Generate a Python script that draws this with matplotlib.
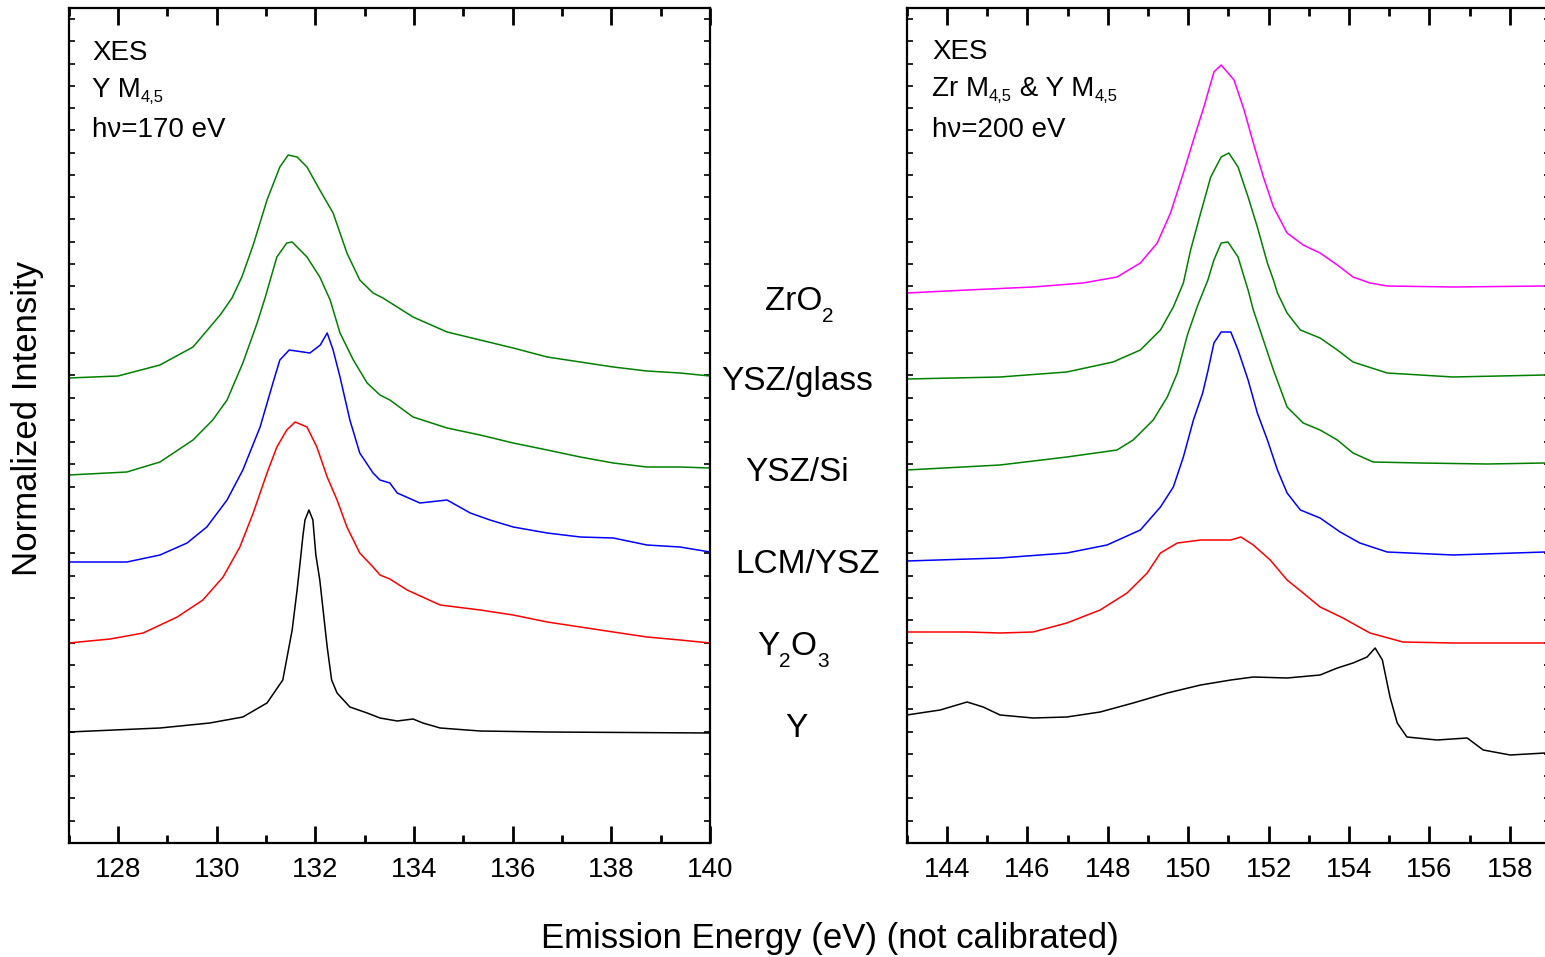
import numpy as np
import matplotlib
matplotlib.use('Agg')
import matplotlib.pyplot as plt
from matplotlib.ticker import MultipleLocator
from matplotlib.text import Annotation
from matplotlib.transforms import IdentityTransform

# ---------------- data (arbitrary intensity units, offsets included) -------------
# Left panel: Y M4,5, hv = 170 eV
yglass_L_E = [127.0, 128.0, 128.85, 129.52, 130.07, 130.31, 130.51, 130.74, 131.02, 131.28, 131.45,
              131.63, 131.83, 132.09, 132.36, 132.64, 132.90, 133.17, 133.37, 133.98, 134.67, 135.34,
              136.01, 136.70, 137.37, 138.04, 138.72, 139.39, 140.0]
yglass_L_I = [465, 467, 478, 496, 528, 545, 566, 598, 643, 676, 688,
              686, 676, 653, 630, 590, 563, 550, 545, 526, 511, 503,
              495, 486, 481, 476, 472, 470, 467]

ysi_L_E = [127.0, 128.18, 128.85, 129.52, 129.92, 130.21, 130.53, 130.82, 130.98, 131.22, 131.42,
           131.53, 131.83, 132.09, 132.30, 132.50, 132.77, 133.05, 133.31, 133.51, 133.98, 134.67,
           135.34, 136.01, 136.70, 137.37, 138.04, 138.72, 139.39, 140.0]
ysi_L_I = [368, 371, 381, 403, 423, 443, 480, 520, 545, 586, 600,
           601, 586, 566, 543, 510, 483, 460, 448, 443, 426, 415,
           408, 400, 393, 386, 380, 376, 376, 375]

lcm_L_E = [127.0, 128.18, 128.85, 129.40, 129.80, 130.21, 130.53, 130.88, 131.14, 131.28, 131.47,
           131.89, 132.10, 132.24, 132.36, 132.50, 132.70, 132.90, 133.17, 133.31, 133.51, 133.66,
           134.12, 134.67, 135.14, 135.54, 136.01, 136.70, 137.37, 138.04, 138.72, 139.39, 140.0]
lcm_L_I = [281, 281, 288, 300, 316, 343, 373, 416, 460, 483, 493,
           490, 498, 510, 493, 466, 423, 390, 370, 363, 360, 350,
           340, 343, 330, 323, 316, 310, 306, 305, 298, 296, 291]

y2o3_L_E = [127.0, 127.84, 128.51, 129.20, 129.72, 130.13, 130.47, 130.74, 131.02, 131.22, 131.42,
            131.59, 131.83, 132.03, 132.24, 132.44, 132.64, 132.90, 133.17, 133.31, 133.51, 133.86,
            134.53, 135.34, 136.01, 136.70, 137.37, 138.04, 138.72, 139.39, 140.0]
y2o3_L_I = [200, 204, 210, 226, 243, 266, 296, 330, 370, 396, 413,
            421, 416, 396, 366, 343, 316, 290, 276, 268, 264, 253,
            238, 233, 228, 221, 216, 211, 206, 203, 200]

y_L_E = [127.0, 128.85, 129.86, 130.53, 131.02, 131.34, 131.53, 131.63, 131.69, 131.75, 131.79,
         131.87, 131.95, 132.01, 132.09, 132.24, 132.33, 132.44, 132.70, 133.05, 133.31, 133.66,
         133.98, 134.18, 134.53, 135.34, 136.70, 140.0]
y_L_I = [111, 115, 120, 126, 140, 163, 213, 253, 280, 308, 323,
         333, 323, 288, 263, 196, 163, 150, 136, 130, 125, 122,
         124, 120, 115, 112, 111, 110]

# Right panel: Zr M4,5 & Y M4,5, hv = 200 eV
zro2_R_E = [143.0, 144.50, 146.14, 147.38, 148.23, 148.81, 149.23, 149.56, 149.88, 150.13, 150.39,
            150.64, 150.82, 151.14, 151.39, 151.62, 151.87, 152.12, 152.46, 152.86, 153.28, 153.71,
            154.10, 154.52, 154.95, 156.59, 158.88]
zro2_R_I = [550, 553, 556, 560, 566, 580, 600, 630, 670, 703, 736,
            771, 778, 763, 733, 700, 666, 636, 610, 598, 590, 578,
            566, 560, 557, 556, 557]

yglass_R_E = [143.0, 145.32, 146.98, 148.13, 148.81, 149.31, 149.63, 149.88, 150.06, 150.31,
              150.56, 150.82, 151.01, 151.24, 151.49, 151.72, 151.97, 152.12, 152.22, 152.46, 152.79,
              153.28, 153.71, 154.10, 154.95, 156.59, 158.88]
yglass_R_I = [464, 466, 471, 481, 493, 513, 536, 560, 593, 630,
              666, 686, 690, 676, 646, 616, 580, 563, 550, 530, 513,
              505, 493, 481, 470, 466, 468]

ysi_R_E = [143.0, 145.32, 146.98, 148.23, 148.63, 149.13, 149.48, 149.73, 149.98, 150.23,
           150.49, 150.64, 150.82, 150.99, 151.24, 151.39, 151.49, 151.62, 151.87, 152.12, 152.46,
           152.86, 153.28, 153.71, 154.10, 154.60, 155.77, 157.44, 158.88]
ysi_R_I = [373, 378, 386, 393, 403, 423, 446, 470, 508, 537,
           563, 583, 600, 601, 586, 566, 553, 533, 503, 473, 436,
           420, 413, 403, 390, 381, 380, 379, 380]

lcm_R_E = [143.0, 145.32, 146.98, 147.98, 148.81, 149.31, 149.63, 149.88, 150.13, 150.36, 150.49,
           150.64, 150.82, 151.06, 151.24, 151.49, 151.72, 151.97, 152.22, 152.46, 152.79, 153.28,
           153.78, 154.27, 154.95, 156.59, 158.88]
lcm_R_I = [282, 285, 290, 298, 313, 336, 356, 386, 423, 450, 472,
           500, 511, 511, 493, 463, 430, 403, 373, 350, 333, 325,
           311, 300, 291, 288, 291]

y2o3_R_E = [143.0, 144.50, 145.32, 146.14, 146.98, 147.81, 148.48, 148.98, 149.31, 149.73, 150.31,
            151.06, 151.31, 151.62, 152.04, 152.46, 152.86, 153.28, 153.85, 154.52, 155.34, 156.59, 158.88]
y2o3_R_I = [211, 211, 210, 211, 220, 233, 250, 270, 290, 300, 303,
            303, 306, 298, 283, 263, 250, 236, 225, 210, 201, 200, 200]

y_R_E = [143.0, 143.83, 144.50, 144.90, 145.32, 146.14, 146.98, 147.81, 148.63, 149.48, 150.31,
         151.06, 151.62, 152.46, 153.28, 153.71, 154.10, 154.45, 154.65, 154.83, 155.02, 155.20,
         155.44, 156.19, 156.94, 157.34, 158.01, 158.88]
y_R_I = [128, 133, 141, 136, 128, 125, 126, 131, 140, 150, 158,
         163, 166, 165, 168, 175, 180, 186, 195, 183, 146, 120,
         106, 103, 105, 93, 88, 90]

left_ticks = [128, 130, 132, 134, 136, 138, 140]
right_ticks = [144, 146, 148, 150, 152, 154, 156, 158]

# ---------------- style -------------
plt.rcParams['font.family'] = ['Liberation Sans', 'DejaVu Sans']

W, H = 1545, 957
fig = plt.figure(figsize=(W / 100, H / 100), dpi=100)


def fx(px):
    return px / W


def fy(py):
    return 1 - py / H


axL = fig.add_axes([fx(68.7), fy(843), (710 - 68.7) / W, 835 / H])
axR = fig.add_axes([fx(906.8), fy(843), 16 * 40.2 / W, 835 / H])

GREEN = '#008000'
lw = 1.1
axL.plot(yglass_L_E, yglass_L_I, color=GREEN, lw=lw)
axL.plot(ysi_L_E, ysi_L_I, color=GREEN, lw=lw)
axL.plot(lcm_L_E, lcm_L_I, color='#0000FF', lw=lw)
axL.plot(y2o3_L_E, y2o3_L_I, color='#FF0000', lw=lw)
axL.plot(y_L_E, y_L_I, color='black', lw=lw)

axR.plot(zro2_R_E, zro2_R_I, color='#FF00FF', lw=lw)
axR.plot(yglass_R_E, yglass_R_I, color=GREEN, lw=lw)
axR.plot(ysi_R_E, ysi_R_I, color=GREEN, lw=lw)
axR.plot(lcm_R_E, lcm_R_I, color='#0000FF', lw=lw)
axR.plot(y2o3_R_E, y2o3_R_I, color='#FF0000', lw=lw)
axR.plot(y_R_E, y_R_I, color='black', lw=lw)

axL.set_xlim(127, 140)
axR.set_xlim(143, 159)
for ax, ticks in ((axL, left_ticks), (axR, right_ticks)):
    ax.set_ylim(0, 835)
    ax.set_xticks(ticks)
    ax.xaxis.set_minor_locator(MultipleLocator(1))
    ax.yaxis.set_major_locator(MultipleLocator(22.27))
    ax.tick_params(axis='x', which='major', direction='in', length=12, width=2,
                   top=True, labelsize=20, pad=10)
    ax.tick_params(axis='x', which='minor', direction='in', length=6, width=2, top=True)
    ax.tick_params(axis='y', which='major', direction='in', length=4, width=1.2,
                   left=True, right=True, labelleft=False)
    for s in ax.spines.values():
        s.set_linewidth(1.6)


def chain_text(parts, x_px, base_px, fs, sub_fs, drop_px):
    """parts: list of (string, is_subscript); drawn left-to-right on one baseline."""
    prev = None
    for s, is_sub in parts:
        yb = fy(base_px + (drop_px if is_sub else 0))
        size = sub_fs if is_sub else fs
        if prev is None:
            prev = fig.text(fx(x_px), yb, s, fontsize=size, va='baseline', ha='left')
        else:
            a = Annotation(s, xy=(1.0, yb), xycoords=(prev, 'figure fraction'),
                           fontsize=size, va='baseline', ha='left',
                           annotation_clip=False)
            a.set_transform(IdentityTransform())
            fig.add_artist(a)
            prev = a
    return prev


# annotations inside panels
fs_ann = 20
fig.text(fx(92), fy(60), 'XES', fontsize=fs_ann, va='baseline', ha='left')
chain_text([('Y M', False), ('4,5', True)], 92, 97, fs_ann, 12, 5)
fig.text(fx(92), fy(137), 'h\u03bd=170 eV', fontsize=fs_ann, va='baseline', ha='left')

fig.text(fx(932), fy(59), 'XES', fontsize=fs_ann, va='baseline', ha='left')
chain_text([('Zr M', False), ('4,5', True), (' & Y M', False), ('4,5', True)],
           932, 96, fs_ann, 12, 5)
fig.text(fx(932), fy(137), 'h\u03bd=200 eV', fontsize=fs_ann, va='baseline', ha='left')

# sample labels between panels
chain_text([('ZrO', False), ('2', True)], 765, 310, 24, 15, 12)
fig.text(fx(797), fy(390), 'YSZ/glass', fontsize=24, ha='center', va='baseline')
fig.text(fx(797), fy(481), 'YSZ/Si', fontsize=24, ha='center', va='baseline')
fig.text(fx(807), fy(573), 'LCM/YSZ', fontsize=24, ha='center', va='baseline')
chain_text([('Y', False), ('2', True), ('O', False), ('3', True)], 757, 655, 24, 15, 12)
fig.text(fx(796), fy(737), 'Y', fontsize=24, ha='center', va='baseline')

fig.text(fx(830), fy(948), 'Emission Energy (eV) (not calibrated)', fontsize=25,
         ha='center', va='baseline')
fig.text(fx(28), fy(418), 'Normalized Intensity', fontsize=25, rotation=90,
         ha='center', va='center')

fig.savefig('out.png', dpi=100)
